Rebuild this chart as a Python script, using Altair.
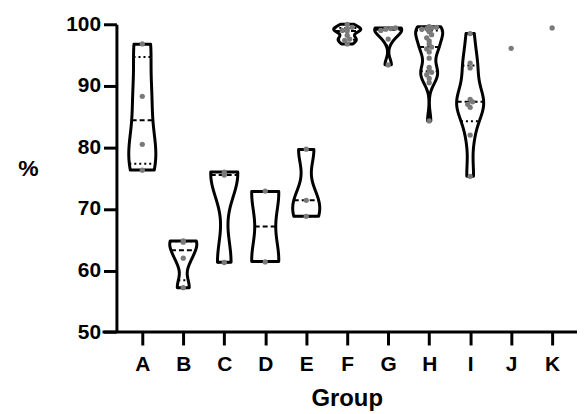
import altair as alt
import pandas as pd

groups = ["A", "B", "C", "D", "E", "F", "G", "H", "I", "J", "K"]
a_vals = [96.8, 88.3, 80.5, 76.3]
b_vals = [64.8, 64.6, 62.0, 57.2]
c_vals = [76.0, 75.5, 61.3]
d_vals = [72.9, 61.4]
e_vals = [79.7, 71.4, 68.8]
f_vals = [100.0, 99.5, 99.3, 99.0, 98.9, 98.2, 97.6, 97.4, 96.8]
g_vals = [99.4, 99.3, 99.2, 99.0, 97.6, 93.4]
h_vals = [99.6, 99.5, 99.4, 99.3, 99.2, 98.8, 98.3, 97.8, 97.3, 96.8, 96.3,
          96.0, 95.5, 94.5, 93.0, 92.5, 92.2, 91.8, 91.2, 90.5, 84.3]
i_vals = [98.5, 93.7, 92.9, 87.8, 87.4, 87.0, 86.5, 82.0, 75.3]
j_vals = [96.1]
k_vals = [99.4]

series = [a_vals, b_vals, c_vals, d_vals, e_vals, f_vals, g_vals, h_vals, i_vals, j_vals, k_vals]
rows = []
for gi, (g, vals) in enumerate(zip(groups, series)):
    for v in vals:
        rows.append({"Group": g, "idx": gi, "v": v})
df = pd.DataFrame(rows)

W, H = 463, 309.4
label_expr = "[" + ",".join(f"'{g}'" for g in groups) + "][datum.value]"

x_scale = alt.Scale(domain=[-0.631, 10.607], nice=False, zero=False)
y_scale = alt.Scale(domain=[50, 100], nice=False, zero=False)

x_axis = alt.Axis(values=list(range(len(groups))), labelExpr=label_expr, domain=False,
                  tickSize=13, tickWidth=3, tickColor="black",
                  labelFont="Liberation Sans", labelFontWeight="bold", labelFontSize=21,
                  labelColor="black", labelPadding=9, labelFlush=False,
                  title="Group", titleFont="Liberation Sans", titleFontWeight="bold",
                  titleFontSize=24, titleColor="black", titleY=74, titleBaseline="alphabetic")
y_axis = alt.Axis(values=[50, 60, 70, 80, 90, 100], tickSize=13, tickWidth=3, tickColor="black",
                  domainWidth=3, domainColor="black",
                  labelFont="Liberation Sans", labelFontWeight="bold", labelFontSize=21,
                  labelColor="black", labelPadding=3,
                  title="%", titleAngle=0, titleX=-89, titleY=145, titleAlign="center",
                  titleBaseline="middle", titleFont="Liberation Sans", titleFontWeight="bold",
                  titleFontSize=23, titleColor="black")


def wexpr(l, p):
    L = f"datum.{l}"
    F = f"(datum.{p} - datum.{l})"
    return (f"{L} < 1 ? (datum.rk == 1 ? 1 : 0) : ({L} >= datum.n ? (datum.rk == datum.n ? 1 : 0) : "
            f"(datum.rk == {L} ? 1 - {F} : (datum.rk == {L} + 1 ? {F} : 0)))")


violin_base = (
    alt.Chart(df)
    .transform_joinaggregate(mu="mean(v)", sd="stdev(v)", n="count()", mn="min(v)",
                             mx="max(v)", med="median(v)", groupby=["Group"])
    .transform_filter("datum.n >= 2")
    .transform_window(rk="row_number()", groupby=["Group"],
                      sort=[alt.SortField("v", order="ascending")])
    .transform_calculate(p1="(datum.n + 1) / 4", p3="3 * (datum.n + 1) / 4")
    .transform_calculate(l1="floor(datum.p1)", l3="floor(datum.p3)")
    .transform_calculate(w1=wexpr("l1", "p1"), w3=wexpr("l3", "p3"))
    .transform_calculate(c1="datum.w1 * datum.v", c3="datum.w3 * datum.v")
    .transform_joinaggregate(q1="sum(c1)", q3="sum(c3)", groupby=["Group"])
    .transform_calculate(s="datum.sd * pow(datum.n, -0.2)")
    .transform_calculate(z="(datum.v - datum.mu) / datum.s")
    .transform_density("z", groupby=["Group", "idx", "mu", "s", "mn", "mx", "med", "q1", "q3"],
                       extent=[-12, 12], steps=2401, bandwidth=0.6, as_=["z", "density"])
    .transform_calculate(v="datum.mu + datum.z * datum.s")
    .transform_filter("datum.v >= datum.mn - 0.0001 && datum.v <= datum.mx + 0.0001")
    .transform_joinaggregate(maxd="max(density)", groupby=["Group"])
    .transform_calculate(half="datum.density / datum.maxd * 0.33")
    .transform_calculate(lo="datum.idx - datum.half", hi="datum.idx + datum.half")
)

violins = violin_base.mark_area(orient="horizontal", fill="white", stroke="black",
                                strokeWidth=3, strokeJoin="round").encode(
    y=alt.Y("v:Q", scale=y_scale, axis=y_axis),
    x=alt.X("lo:Q", scale=x_scale, axis=x_axis),
    x2="hi:Q",
    detail="Group:N",
)


def level_line(field, dash):
    return (violin_base
            .transform_calculate(dm=f"abs(datum.v - datum.{field})")
            .transform_window(rn="row_number()", groupby=["Group"],
                              sort=[alt.SortField("dm", order="ascending")])
            .transform_filter("datum.rn == 1")
            .mark_rule(stroke="black", strokeWidth=2, strokeDash=dash)
            .encode(x=alt.X("lo:Q", scale=x_scale), x2="hi:Q",
                    y=alt.Y(f"{field}:Q", scale=y_scale)))


q1_line = level_line("q1", [2, 3])
q3_line = level_line("q3", [2, 3])
med_line = level_line("med", [5, 3])

points = (
    alt.Chart(df)
    .transform_calculate(bn="floor(datum.v / 0.6)")
    .transform_window(r="row_number()", groupby=["Group", "bn"], sort=[alt.SortField("v")])
    .transform_joinaggregate(cnt="count()", groupby=["Group", "bn"])
    .transform_calculate(px="datum.idx + (datum.r - (datum.cnt + 1) / 2) * 0.12")
    .mark_circle(size=28, color="#7a7a7a", opacity=1)
    .encode(x=alt.X("px:Q", scale=x_scale), y=alt.Y("v:Q", scale=y_scale))
)

x_line = alt.Chart(pd.DataFrame({"a": [0]})).mark_rule(stroke="black", strokeWidth=3).encode(
    x=alt.value(-14), x2=alt.value(W), y=alt.value(H))

chart = alt.layer(violins, q1_line, q3_line, med_line, points, x_line).properties(
    width=W, height=H, autosize="none",
    padding={"left": 109, "top": 15.3, "right": 0, "bottom": 80},
).configure_view(stroke=None).configure_axis(grid=False)

chart.save("out.html", embed_options={"renderer": "svg", "actions": False})
